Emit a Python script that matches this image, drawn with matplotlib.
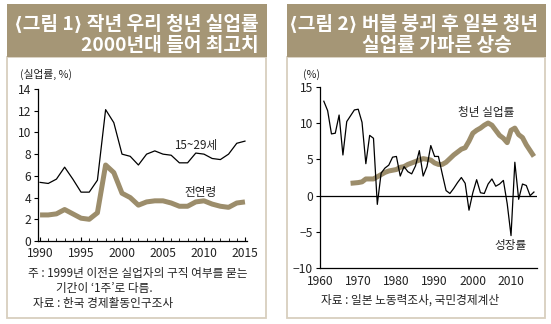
import matplotlib
matplotlib.use("Agg")
import matplotlib.pyplot as plt
from matplotlib.patches import Rectangle
from matplotlib.ticker import MultipleLocator

plt.rcParams['font.family'] = ['Noto Sans CJK KR', 'DejaVu Sans']

# ---------------- data ----------------
kr_years = list(range(1990, 2016))
kr_youth = [5.4, 5.3, 5.7, 6.8, 5.7, 4.5, 4.5, 5.6, 12.1, 10.9, 8.0, 7.8, 7.0,
            8.0, 8.3, 8.0, 7.9, 7.2, 7.2, 8.1, 8.0, 7.6, 7.5, 8.0, 9.0, 9.2]
kr_total = [2.4, 2.4, 2.5, 2.9, 2.5, 2.1, 2.0, 2.6, 7.0, 6.3, 4.4, 4.0, 3.3,
            3.6, 3.7, 3.7, 3.5, 3.2, 3.2, 3.6, 3.7, 3.4, 3.2, 3.1, 3.5, 3.6]

jp_growth_years = list(range(1961, 2017))
jp_growth = [13.0, 11.7, 8.5, 8.6, 11.1, 5.6, 10.2, 11.0, 11.8, 11.9, 10.1, 4.4,
             8.3, 7.9, -1.2, 3.1, 3.8, 4.2, 5.3, 5.4, 2.7, 4.0, 3.3, 3.0, 4.1,
             6.2, 2.7, 4.0, 6.9, 5.4, 5.4, 3.0, 0.7, 0.3, 1.0, 1.8, 2.5, 1.7,
             -2.0, 0.4, 2.2, 0.4, 0.3, 1.6, 2.3, 1.3, 1.6, 2.1, -1.1, -5.5,
             4.6, -0.5, 1.6, 1.4, 0.0, 0.5]
jp_youth_years = list(range(1968, 2017))
jp_youth = [1.7, 1.75, 1.8, 1.9, 2.3, 2.3, 2.3, 2.6, 2.9, 3.2, 3.4, 3.5, 3.6,
            3.9, 4.0, 4.3, 4.5, 4.7, 4.9, 5.1, 5.0, 4.9, 4.5, 4.3, 4.3, 4.6,
            5.1, 5.6, 6.0, 6.4, 6.6, 7.5, 8.6, 9.0, 9.3, 9.7, 10.0, 9.7, 9.0,
            8.3, 7.9, 7.3, 9.0, 9.3, 8.4, 8.0, 7.0, 6.2, 5.4]

kr_xticks = [1990, 1995, 2000, 2005, 2010, 2015]
jp_xticks = [1960, 1970, 1980, 1990, 2000, 2010]

title1 = ["⟨그림 1⟩ 작년 우리 청년 실업률", "2000년대 들어 최고치"]
title2 = ["⟨그림 2⟩ 버블 붕괴 후 일본 청년", "실업률 가파른 상승"]

# ---------------- style ----------------
W, H = 551, 324
BAND = '#A59676'
KHAKI = '#9C8D6B'
BORDER = '#D8CFBE'
TXT = '#222222'

fig = plt.figure(figsize=(W / 100, H / 100), dpi=100)


def fx(x):
    return x / W


def fy(y):
    return 1 - y / H


def add_axes_px(x0, y0, x1, y1):
    a = fig.add_axes([fx(x0), fy(y1), (x1 - x0) / W, (y1 - y0) / H])
    a.set_zorder(5)
    return a


# panel frames + title bands
for (x0, x1) in [(7, 266), (287, 545)]:
    fig.patches.append(Rectangle((fx(x0), fy(318)), (x1 - x0) / W, (318 - 57) / H,
                                 transform=fig.transFigure, facecolor='white',
                                 edgecolor=BORDER, linewidth=1.3, zorder=-2))
    fig.patches.append(Rectangle((fx(x0 - 0.5), fy(57)), (x1 - x0 + 1) / W, (57 - 4) / H,
                                 transform=fig.transFigure, facecolor=BAND,
                                 edgecolor='none', zorder=-1))

tkw = dict(color='white', fontsize=13.8, fontweight='bold', va='baseline')
fig.text(fx(259), fy(29), title1[0], ha='right', **tkw)
fig.text(fx(259), fy(51), title1[1], ha='right', **tkw)
fig.text(fx(289), fy(29), title2[0], ha='left', **tkw)
fig.text(fx(362), fy(51), title2[1], ha='left', **tkw)

ANN = 8.4
NOTE = 8.4

# ---------------- left chart ----------------
ax1 = add_axes_px(38, 89, 247, 241)
ax1.plot(kr_years, kr_total, color=KHAKI, lw=3.6, solid_joinstyle='round',
         solid_capstyle='butt', zorder=2)
ax1.plot(kr_years, kr_youth, color='black', lw=0.9, zorder=3)
ax1.set_xlim(1989.75, 2015.25)
ax1.set_ylim(0, 14)
ax1.set_yticks(range(0, 15, 2))
ax1.set_xticks(kr_xticks)
ax1.xaxis.set_minor_locator(MultipleLocator(1))
for s in ['top', 'right']:
    ax1.spines[s].set_visible(False)
for s in ['left', 'bottom']:
    ax1.spines[s].set_linewidth(0.9)
ax1.tick_params(axis='y', direction='out', length=3, width=0.8, pad=2,
                labelsize=8.7, labelcolor=TXT)
ax1.tick_params(axis='x', which='major', direction='in', length=3, width=0.8,
                pad=4.5, labelsize=8.7, labelcolor=TXT)
ax1.tick_params(axis='x', which='minor', direction='in', length=2, width=0.6)
ax1.patch.set_alpha(0)

ax1.text(2009.0, 8.8, "15~29세", fontsize=ANN, color=TXT, ha='center', va='center')
ax1.text(2009.6, 4.45, "전연령", fontsize=ANN, color=TXT, ha='center', va='center')

fig.text(fx(20), fy(78), "(실업률, %)", fontsize=7.7, color=TXT, ha='left', va='baseline')
fig.text(fx(28), fy(277), "주 : 1999년 이전은 실업자의 구직 여부를 묻는", fontsize=NOTE,
         color=TXT, ha='left', va='baseline')
fig.text(fx(56), fy(292), "기간이 ‘1주’로 다름.", fontsize=NOTE, color=TXT,
         ha='left', va='baseline')
fig.text(fx(33), fy(307), "자료 : 한국 경제활동인구조사", fontsize=NOTE, color=TXT,
         ha='left', va='baseline')

# ---------------- right chart ----------------
ax2 = add_axes_px(320, 86.7, 537, 268.3)
ax2.axhline(0, color='black', lw=0.9, zorder=1)
ax2.plot(jp_youth_years, jp_youth, color=KHAKI, lw=3.6, solid_joinstyle='round',
         solid_capstyle='butt', zorder=2)
ax2.plot(jp_growth_years, jp_growth, color='black', lw=0.9, zorder=3)
ax2.set_xlim(1960, 2016.8)
ax2.set_ylim(-10, 15)
ax2.set_yticks(range(-10, 16, 5))
ax2.set_yticklabels(["−10", "−5", "0", "5", "10", "15"])
ax2.set_xticks(jp_xticks)
for s in ['top', 'right']:
    ax2.spines[s].set_visible(False)
for s in ['left', 'bottom']:
    ax2.spines[s].set_linewidth(0.9)
ax2.tick_params(axis='y', direction='out', length=3, width=0.8, pad=2,
                labelsize=8.7, labelcolor=TXT)
ax2.tick_params(axis='x', direction='in', length=0, pad=5, labelsize=8.7,
                labelcolor=TXT)
ax2.patch.set_alpha(0)

ax2.text(2003.6, 11.4, "청년 실업률", fontsize=ANN, color=TXT, ha='center', va='center')
ax2.text(2009.9, -6.8, "성장률", fontsize=ANN, color=TXT, ha='center', va='center')

fig.text(fx(303), fy(78), "(%)", fontsize=7.7, color=TXT, ha='left', va='baseline')
fig.text(fx(321), fy(304), "자료 : 일본 노동력조사, 국민경제계산", fontsize=NOTE,
         color=TXT, ha='left', va='baseline')

fig.savefig("out.png", dpi=100)
